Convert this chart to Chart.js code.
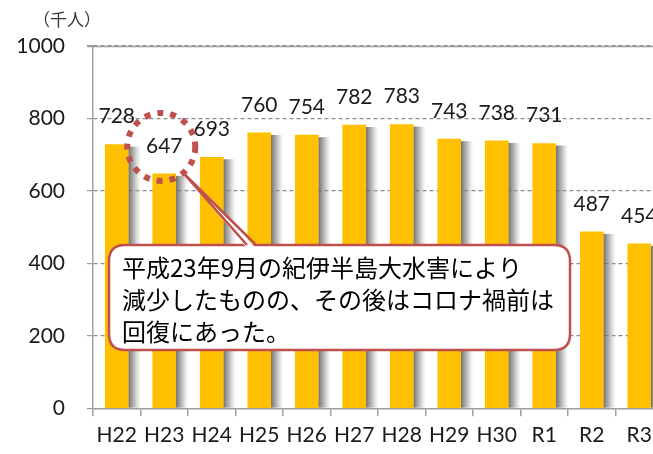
<!DOCTYPE html>
<html>
<head>
<meta charset="utf-8">
<script src="https://cdn.jsdelivr.net/npm/chart.js@4.4.1/dist/chart.umd.min.js"></script>
<style>
  html, body { margin: 0; padding: 0; background: #fff; overflow: hidden; width: 653px; height: 454px; }
  #wrap { width: 680px; height: 454px; position: relative; }
</style>
</head>
<body>
<div id="wrap"><canvas id="c" width="680" height="454"></canvas></div>
<script>
const categories = ['H22','H23','H24','H25','H26','H27','H28','H29','H30','R1','R2','R3'];
const visitors = [728, 647, 693, 760, 754, 782, 783, 743, 738, 731, 487, 454];
const yTicks = [0, 200, 400, 600, 800, 1000];
const unitLabel = '（千人）';
const noteLines = [
  '平成23年9月の紀伊半島大水害により',
  '減少したものの、その後はコロナ禍前は',
  '回復にあった。'
];
const highlightIndex = 1;

const NUM_FONT = 'Lato, "Liberation Sans", sans-serif';
const JP_FONT = '"Noto Sans CJK JP", "Noto Sans", sans-serif';
const RED = '#C0504D';

const shadowPlugin = {
  id: 'barShadow',
  beforeDatasetsDraw(chart) {
    const ctx = chart.ctx;
    const meta = chart.getDatasetMeta(0);
    ctx.save();
    meta.data.forEach(bar => {
      const p = bar.getProps(['x','y','base','width'], true);
      const x0 = p.x + p.width / 2;
      const sw = 13;
      const g = ctx.createLinearGradient(x0, 0, x0 + sw, 0);
      g.addColorStop(0, 'rgba(80,80,80,0.85)');
      g.addColorStop(0.5, 'rgba(140,140,140,0.55)');
      g.addColorStop(1, 'rgba(200,200,200,0)');
      ctx.fillStyle = g;
      ctx.fillRect(x0, p.y + 2, sw, p.base - p.y - 2);
    });
    ctx.restore();
  }
};

const labelPlugin = {
  id: 'valueLabels',
  afterDatasetsDraw(chart) {
    const ctx = chart.ctx;
    const meta = chart.getDatasetMeta(0);
    ctx.save();
    ctx.font = '21px ' + NUM_FONT;
    ctx.fillStyle = '#1a1a1a';
    ctx.textAlign = 'center';
    ctx.textBaseline = 'middle';
    meta.data.forEach((bar, i) => {
      ctx.fillText(String(visitors[i]), bar.x, bar.y - 28);
    });
    ctx.restore();
  }
};

const decoPlugin = {
  id: 'deco',
  afterDraw(chart) {
    const ctx = chart.ctx;
    const ys = chart.scales.y;
    const area = chart.chartArea;
    ctx.save();
    // solid top gridline
    ctx.strokeStyle = '#9a9a9a';
    ctx.lineWidth = 1.5;
    ctx.beginPath();
    const yTop = Math.round(ys.getPixelForValue(1000)) + 0.5;
    ctx.moveTo(area.left - 6, yTop);
    ctx.lineTo(area.right, yTop);
    ctx.stroke();

    // unit label
    ctx.font = '17px ' + JP_FONT;
    ctx.fillStyle = '#333';
    ctx.textAlign = 'left';
    ctx.textBaseline = 'middle';
    ctx.fillText(unitLabel, 33, 20);

    // dotted circle around highlighted label
    const bar = chart.getDatasetMeta(0).data[highlightIndex];
    const cx = bar.x - 3, cy = bar.y - 27;
    ctx.strokeStyle = RED;
    ctx.lineWidth = 6;
    ctx.setLineDash([6, 7]);
    ctx.beginPath();
    ctx.arc(cx, cy, 34, 0, Math.PI * 2);
    ctx.stroke();
    ctx.setLineDash([]);

    // callout box
    const bx = 109, by = 245, bw = 461, bh = 105, r = 16;
    ctx.beginPath();
    ctx.moveTo(bx + r, by);
    ctx.lineTo(bx + bw - r, by);
    ctx.quadraticCurveTo(bx + bw, by, bx + bw, by + r);
    ctx.lineTo(bx + bw, by + bh - r);
    ctx.quadraticCurveTo(bx + bw, by + bh, bx + bw - r, by + bh);
    ctx.lineTo(bx + r, by + bh);
    ctx.quadraticCurveTo(bx, by + bh, bx, by + bh - r);
    ctx.lineTo(bx, by + r);
    ctx.quadraticCurveTo(bx, by, bx + r, by);
    ctx.closePath();
    ctx.fillStyle = '#fff';
    ctx.fill();
    ctx.strokeStyle = RED;
    ctx.lineWidth = 2.5;
    ctx.stroke();

    // wedge pointer
    const tipX = cx + 22, tipY = cy + 26;
    ctx.beginPath();
    ctx.moveTo(tipX, tipY);
    ctx.lineTo(256, by + 3);
    ctx.lineTo(247, by + 3);
    ctx.closePath();
    ctx.fillStyle = '#fff';
    ctx.fill();
    ctx.beginPath();
    ctx.moveTo(247, by);
    ctx.lineTo(tipX, tipY);
    ctx.lineTo(256, by);
    ctx.strokeStyle = RED;
    ctx.lineWidth = 2.5;
    ctx.lineJoin = 'miter';
    ctx.stroke();

    // note text
    ctx.font = '24px ' + JP_FONT;
    ctx.fillStyle = '#000';
    ctx.textAlign = 'left';
    ctx.textBaseline = 'middle';
    noteLines.forEach((t, i) => ctx.fillText(t, 122, 268 + i * 32));
    ctx.restore();
  }
};

new Chart(document.getElementById('c'), {
  type: 'bar',
  data: {
    labels: categories,
    datasets: [{
      data: visitors,
      backgroundColor: '#FFC000',
      borderWidth: 0,
      barThickness: 23
    }]
  },
  options: {
    responsive: false,
    animation: false,
    events: [],
    layout: { padding: { top: 46, right: 17, left: 0, bottom: 0 } },
    plugins: { legend: { display: false }, tooltip: { enabled: false } },
    scales: {
      x: {
        grid: { display: true, drawOnChartArea: false, drawTicks: true, tickLength: 8, color: '#a0a0a0', lineWidth: 1.5 },
        border: { display: true, color: '#a0a0a0', width: 1.5 },
        ticks: { color: '#1a1a1a', font: { family: NUM_FONT, size: 21 }, padding: 6, maxRotation: 0, autoSkip: false },
        afterFit(s) { s.height = 45.7; }
      },
      y: {
        min: 0, max: 1000,
        afterBuildTicks(s) { s.ticks = yTicks.map(v => ({ value: v })); },
        grid: { color: '#8a8a8a', lineWidth: 1.2, tickLength: 6, tickBorderDash: [], tickColor: '#9a9a9a' },
        border: { display: true, color: '#a0a0a0', width: 1.5, dash: [4, 3] },
        ticks: { color: '#1a1a1a', font: { family: NUM_FONT, size: 21 }, padding: 22, callback: v => String(v) },
        afterFit(s) { s.width = 93; }
      }
    }
  },
  plugins: [shadowPlugin, labelPlugin, decoPlugin]
});
</script>
</body>
</html>
